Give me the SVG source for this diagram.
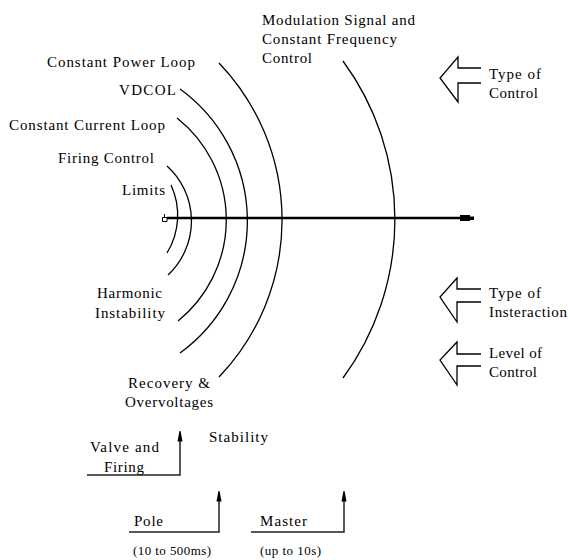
<svg xmlns="http://www.w3.org/2000/svg" width="568" height="560" viewBox="0 0 568 560">
<defs>
<style>
text{font-family:"Liberation Serif","Times New Roman",serif;font-size:15px;fill:#000}
.sm{font-size:13px}
.arc{fill:none;stroke:#000;stroke-width:1.3}
.br{fill:none;stroke:#222;stroke-width:1.5}
.blk{fill:none;stroke:#000;stroke-width:1.3;stroke-linejoin:miter}
</style>
<marker id="ah" viewBox="0 0 11 6" refX="0.5" refY="3" markerWidth="11" markerHeight="6" markerUnits="userSpaceOnUse" orient="auto">
<path d="M0,0.5 L11,2.5 L11,3.5 L0,5.5 Z" fill="#000"/>
</marker>
</defs>
<rect width="568" height="560" fill="#fff"/>

<g id="axis">
<line x1="167" y1="218" x2="462" y2="218" stroke="#000" stroke-width="2.5"/>
<rect x="460" y="215" width="10" height="6" fill="#000"/>
<rect x="469" y="216.5" width="5" height="3.5" fill="#000"/>
<path d="M162.5,217.5 h4.5 v4 h-4.5 Z M164.5,214 v3.5" fill="none" stroke="#000" stroke-width="1"/>
</g>

<g id="connectors">
<path class="arc" d="M171,185 A72 72 0 0 1 167,253"/>
<path class="arc" d="M167,166 A74 74 0 0 1 168,275"/>
<path class="arc" d="M177,118 A130 130 0 0 1 178,321"/>
<path class="arc" d="M180,89 A163 163 0 0 1 180,353"/>
<path class="arc" d="M219,63 A227 227 0 0 1 219,377"/>
<path class="arc" d="M343,61 A268 268 0 0 1 343,378"/>
<path class="br" d="M87,475 H180 V441" marker-end="url(#ah)"/>
<path class="br" d="M129,532 H219 V501" marker-end="url(#ah)"/>
<path class="br" d="M251,532 H344 V501" marker-end="url(#ah)"/>
</g>

<g id="modulation">
<text x="262" y="25" textLength="153" lengthAdjust="spacing">Modulation Signal and</text>
<text x="262" y="44" textLength="135" lengthAdjust="spacing">Constant Frequency</text>
<text x="262" y="63" textLength="50" lengthAdjust="spacing">Control</text>
</g>
<g id="power-loop"><text x="47" y="67" textLength="148" lengthAdjust="spacing">Constant Power Loop</text></g>
<g id="vdcol"><text x="119" y="95" textLength="57" lengthAdjust="spacing">VDCOL</text></g>
<g id="current-loop"><text x="9" y="130" textLength="156" lengthAdjust="spacing">Constant Current Loop</text></g>
<g id="firing-control"><text x="58" y="163" textLength="96" lengthAdjust="spacing">Firing Control</text></g>
<g id="limits"><text x="122" y="195" textLength="43" lengthAdjust="spacing">Limits</text></g>
<g id="harmonic">
<text x="97" y="298" textLength="65" lengthAdjust="spacing">Harmonic</text>
<text x="95" y="318" textLength="70" lengthAdjust="spacing">Instability</text>
</g>
<g id="recovery">
<text x="128" y="388" textLength="82" lengthAdjust="spacing">Recovery &amp;</text>
<text x="125" y="407" textLength="88" lengthAdjust="spacing">Overvoltages</text>
</g>
<g id="valve">
<text x="90" y="452" textLength="69" lengthAdjust="spacing">Valve and</text>
<text x="104" y="472" textLength="40" lengthAdjust="spacing">Firing</text>
</g>
<g id="stability"><text x="209" y="442" textLength="59" lengthAdjust="spacing">Stability</text></g>
<g id="pole">
<text x="134" y="526" textLength="29" lengthAdjust="spacing">Pole</text>
<text class="sm" x="133" y="555" textLength="78" lengthAdjust="spacing">(10 to 500ms)</text>
</g>
<g id="master">
<text x="260" y="526" textLength="47" lengthAdjust="spacing">Master</text>
<text class="sm" x="260" y="555" textLength="61" lengthAdjust="spacing">(up to 10s)</text>
</g>

<g id="type-of-control">
<path class="blk" d="M481,68 H458 V57 L440,78 L458,102 V83 H481"/>
<text x="489" y="79" textLength="52" lengthAdjust="spacing">Type of</text>
<text x="489" y="98" textLength="49" lengthAdjust="spacing">Control</text>
</g>
<g id="type-of-interaction">
<path class="blk" d="M481,289 H457 V278 L440,297 L457,322 V302 H481"/>
<text x="489" y="298" textLength="52" lengthAdjust="spacing">Type of</text>
<text x="489" y="317" textLength="78" lengthAdjust="spacing">Insteraction</text>
</g>
<g id="level-of-control">
<path class="blk" d="M481,354 H457 V342 L440,360 L457,385 V366 H481"/>
<text x="489" y="358" textLength="53" lengthAdjust="spacing">Level of</text>
<text x="489" y="377" textLength="48" lengthAdjust="spacing">Control</text>
</g>
</svg>
